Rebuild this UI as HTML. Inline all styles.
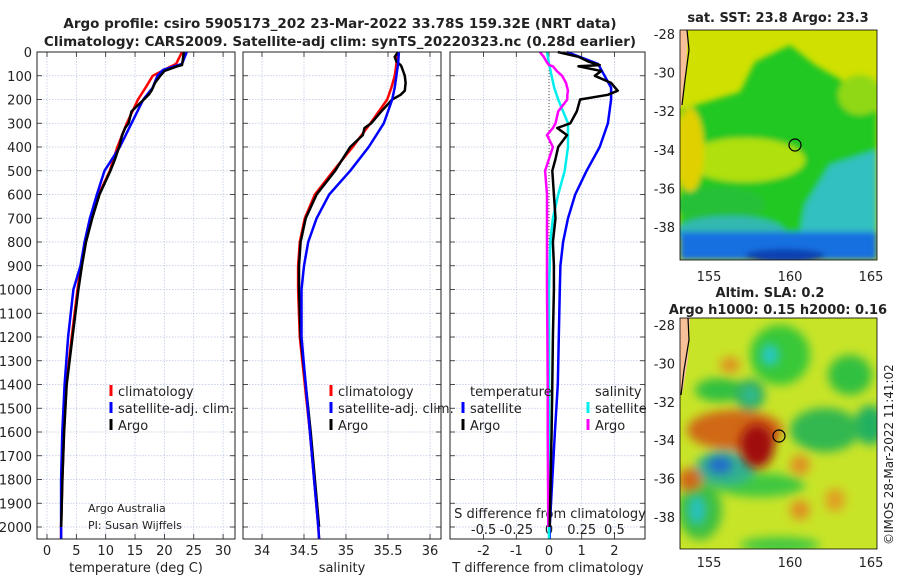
<!DOCTYPE html>
<html><head><meta charset="utf-8"><style>
body{margin:0;background:#fff;}
svg text{font-family:"DejaVu Sans","Liberation Sans",sans-serif;fill:#222;}
</style></head><body>
<svg id="s" width="900" height="580" viewBox="0 0 900 580" xmlns="http://www.w3.org/2000/svg">
<defs>
<filter id="bl" x="-50%" y="-50%" width="200%" height="200%"><feGaussianBlur stdDeviation="5"/></filter>
<filter id="bl3" x="-50%" y="-50%" width="200%" height="200%"><feGaussianBlur stdDeviation="3"/></filter>
<clipPath id="c1"><rect x="680" y="30" width="197" height="230"/></clipPath>
<clipPath id="c2"><rect x="680" y="318" width="197" height="231"/></clipPath>
</defs>
<text x="340" y="28" text-anchor="middle" font-size="13.5" font-weight="bold">Argo profile: csiro 5905173_202 23-Mar-2022 33.78S 159.32E (NRT data)</text>
<text x="340" y="46" text-anchor="middle" font-size="13.5" font-weight="bold">Climatology: CARS2009. Satellite-adj clim: synTS_20220323.nc (0.28d earlier)</text>
<g id="g"></g>
<!-- SST map -->
<g clip-path="url(#c1)">
<rect x="680" y="30" width="197" height="230" fill="#d0e000"/>
<g filter="url(#bl3)">
<path d="M680 110 L740 92 L755 62 L790 45 L815 65 L850 85 L877 85 L877 260 L680 260Z" fill="#22c822"/>
<ellipse cx="860" cy="95" rx="22" ry="20" fill="#90d818"/>
<ellipse cx="745" cy="160" rx="60" ry="22" fill="#b0e010"/>
<ellipse cx="690" cy="150" rx="14" ry="42" fill="#e0d000"/>
<ellipse cx="720" cy="205" rx="45" ry="18" fill="#28c038"/>
<path d="M805 205 L830 165 L877 150 L877 260 L795 260Z" fill="#30c0c0"/>
<ellipse cx="730" cy="232" rx="55" ry="16" fill="#30b8b0"/>
<rect x="680" y="232" width="197" height="28" fill="#1870e0"/>
<ellipse cx="785" cy="256" rx="40" ry="7" fill="#1040b0"/>
</g>
<path d="M680 30 L688 30 L686 70 L683 100 L680 110Z" fill="#f8c098"/>
<path d="M687 30 L689 50 L685 80 L682 105" fill="none" stroke="#000" stroke-width="1.2"/>
<circle cx="795" cy="145" r="6" fill="none" stroke="#000" stroke-width="1.2"/>
</g>
<rect x="680" y="30" width="197" height="230" fill="none" stroke="#000" stroke-width="0.8"/>
<!-- SLA map -->
<g clip-path="url(#c2)">
<rect x="680" y="318" width="197" height="231" fill="#c8e428"/>
<g filter="url(#bl)">
<ellipse cx="780" cy="355" rx="30" ry="30" fill="#38c838"/>
<ellipse cx="850" cy="375" rx="22" ry="20" fill="#30c040"/>
<ellipse cx="870" cy="425" rx="15" ry="20" fill="#20b060"/>
<ellipse cx="825" cy="430" rx="35" ry="22" fill="#30b850"/>
<ellipse cx="720" cy="390" rx="25" ry="12" fill="#30c040"/>
<ellipse cx="750" cy="395" rx="15" ry="16" fill="#30b060"/>
<ellipse cx="760" cy="485" rx="45" ry="12" fill="#40c840"/>
<ellipse cx="700" cy="510" rx="22" ry="30" fill="#40c040"/>
<ellipse cx="725" cy="468" rx="30" ry="17" fill="#30b090"/>
<ellipse cx="735" cy="430" rx="48" ry="20" fill="#d06818"/>
<ellipse cx="690" cy="480" rx="12" ry="12" fill="#d06818"/>
<ellipse cx="800" cy="465" rx="10" ry="10" fill="#e09020"/>
<ellipse cx="800" cy="510" rx="10" ry="10" fill="#e09020"/>
<ellipse cx="835" cy="500" rx="10" ry="12" fill="#e0a020"/>
<ellipse cx="730" cy="365" rx="10" ry="8" fill="#e09020"/>
<ellipse cx="780" cy="545" rx="40" ry="8" fill="#40c840"/>
</g>
<g filter="url(#bl)">
<ellipse cx="757" cy="446" rx="17" ry="22" fill="#a00808"/>
<ellipse cx="720" cy="465" rx="12" ry="8" fill="#2068d0"/>
<ellipse cx="770" cy="355" rx="9" ry="11" fill="#28c8c8"/>
<ellipse cx="697" cy="510" rx="9" ry="15" fill="#28c0c0"/>
<ellipse cx="750" cy="395" rx="6" ry="6" fill="#30c0b0"/>
</g>
<path d="M680 318 L690 318 L688 360 L683 390 L680 395Z" fill="#f8c098"/>
<path d="M688 318 L689 340 L684 370 L681 395" fill="none" stroke="#000" stroke-width="1.2"/>
<circle cx="779" cy="436" r="6" fill="none" stroke="#000" stroke-width="1.2"/>
</g>
<rect x="680" y="318" width="197" height="231" fill="none" stroke="#000" stroke-width="0.8"/>
<text x="778" y="22" text-anchor="middle" font-size="13" font-weight="bold">sat. SST: 23.8 Argo: 23.3</text>
<text x="770" y="297" text-anchor="middle" font-size="13" font-weight="bold">Altim. SLA: 0.2</text>
<text x="778" y="314" text-anchor="middle" font-size="13" font-weight="bold">Argo h1000: 0.15 h2000: 0.16</text>
<text transform="translate(893,545) rotate(-90)" font-size="12">©IMOS 28-Mar-2022 11:41:02</text>
</svg>
<script>
const depthC=[0,50,75,100,150,200,300,400,500,600,700,800,900,1000,1200,1400,1600,1800,2000,2050];
const climT=[23,22,20,18,16.8,15.5,13.6,12,10.7,8.8,7.5,6.5,5.8,5.2,4.2,3.3,2.9,2.6,2.4,2.4];
const satT=[23.8,23,19.8,18.8,18,16.4,14.4,12.4,9.8,8.5,7.3,6.4,5.7,4.5,3.6,3.0,2.6,2.4,2.4,2.4];
const climS=[35.61,35.6,35.59,35.58,35.54,35.49,35.29,35.08,34.85,34.63,34.51,34.45,34.43,34.43,34.45,34.51,34.57,34.62,34.67,34.68];
const satS=[35.63,35.62,35.61,35.6,35.58,35.55,35.45,35.27,35.05,34.8,34.65,34.55,34.5,34.47,34.47,34.52,34.57,34.62,34.67,34.68];
const depthA=[0,20,40,55,60,80,100,130,163,180,200,250,300,320,350,400,450,500,600,700,800,900,1000,1200,1400,1600,1800,2000];
const argoT=[23.3,23.2,23.1,23,22.2,20,19.3,18.4,17.8,17.3,16.5,14.4,13.9,13.3,12.8,12.3,11.6,10.8,8.95,7.7,6.65,5.95,5.35,4.35,3.35,2.92,2.62,2.42];
const argoS=[35.62,35.58,35.6,35.65,35.66,35.68,35.7,35.71,35.7,35.65,35.55,35.42,35.3,35.22,35.2,35.05,34.96,34.87,34.65,34.52,34.46,34.44,34.44,34.46,34.52,34.58,34.63,34.68];
const dTsat=[0.55,1.5,1.6,1.7,1.9,1.9,1.8,1.55,1.15,0.8,0.58,0.43,0.35,0.33,0.3,0.27,0.18,0.1,0.02,0.02];
const dTargo=[0.27,0.9,1.2,1.55,0.9,1.6,1.4,1.9,2.1,1.8,0.95,0.85,0.65,0.25,0.55,0.28,0.2,0.1,0.15,0.2,0.12,0.15,0.15,0.12,0.1,0.08,0.05,0.02];
const dSsat=[-0.015,0.0,0.01,0.02,0.04,0.07,0.145,0.145,0.12,0.07,0.03,0.01,0.005,0,0,0,0,0,0,0];
const dSargo=[-0.07,-0.04,-0.02,0,0.03,0.06,0.1,0.13,0.145,0.14,0.14,0.07,0.05,0.03,-0.015,0.03,0.0,-0.03,-0.015,-0.015,-0.015,-0.015,-0.015,-0.012,-0.01,-0.01,-0.008,-0.005];
const depthTicks=[0,100,200,300,400,500,600,700,800,900,1000,1100,1200,1300,1400,1500,1600,1700,1800,1900,2000];
const tTicks=[0,5,10,15,20,25,30];
const sTicks=[34,34.5,35,35.5,36];
const sTickLabels=["34","34.5","35","35.5","36"];
const dTTicks=[-2,-1,0,1,2];
const dSTicks=[-0.5,-0.25,0,0.25,0.5];
const dSTickLabels=["-0.5","-0.25","0","0.25","0.5"];
const lat=[-28,-30,-32,-34,-36,-38];
const lon=[155,160,165];

const NS='http://www.w3.org/2000/svg';
const g=document.getElementById('g');
function el(t,a,p){const e=document.createElementNS(NS,t);for(const k in a)e.setAttribute(k,a[k]);(p||g).appendChild(e);return e;}
const yD=d=>52+d*0.2375;
const xT=v=>47+v*5.87;
const xS=v=>262+(v-34)*84;
const xDT=v=>549+v*32.7;
const xDS=v=>549+v*130.8;
const P=[{x0:37,x1:235},{x0:243,x1:441},{x0:450,x1:645}];
const yTop=52,yBot=539;
function line(xs,ds,fx,col,w,name){
  const pts=xs.map((v,i)=>fx(v).toFixed(1)+','+yD(ds[i]).toFixed(1)).join(' ');
  const e=el('polyline',{points:pts,fill:'none',stroke:col,'stroke-width':w,'stroke-linejoin':'round'});
  
  
}
function txt(x,y,s,size,anchor,name){
  const e=el('text',{x:x,y:y,'font-size':size,'text-anchor':anchor||'start'});e.textContent=s;
  
  
  return e;
}
P.forEach((p,pi)=>{
  depthTicks.forEach(d=>{
    const e=el('line',{x1:p.x0,x2:p.x1,y1:yD(d),y2:yD(d),stroke:'#b8c4e0','stroke-width':0.7,'stroke-dasharray':'1.5,1.5'});
    
    
    el('line',{x1:p.x0,x2:p.x0+5,y1:yD(d),y2:yD(d),stroke:'#222','stroke-width':0.8});
    el('line',{x1:p.x1-5,x2:p.x1,y1:yD(d),y2:yD(d),stroke:'#222','stroke-width':0.8});
  });
  const xt = pi==0?tTicks.map(xT):pi==1?sTicks.map(xS):dTTicks.map(xDT);
  xt.forEach(x=>{
    const e=el('line',{x1:x,x2:x,y1:yTop,y2:yBot,stroke:'#b8c4e0','stroke-width':0.7,'stroke-dasharray':'1.5,1.5'});
    
    
    el('line',{x1:x,x2:x,y1:yBot-5,y2:yBot,stroke:'#222','stroke-width':0.8});
    el('line',{x1:x,x2:x,y1:yTop,y2:yTop+5,stroke:'#222','stroke-width':0.8});
  });
});
depthTicks.forEach(d=>txt(32,yD(d)+5,String(d),13,'end','depth-tick-label'));
tTicks.forEach(v=>txt(xT(v),555,String(v),13,'middle','temperature-tick-label'));
sTicks.forEach((v,i)=>txt(xS(v),555,sTickLabels[i],13,'middle','salinity-tick-label'));
dTTicks.forEach(v=>txt(xDT(v),555,String(v),13,'middle','t-diff-tick-label'));
dSTicks.forEach((v,i)=>txt(xDS(v),534,dSTickLabels[i],13,'middle','s-diff-tick-label'));
txt(136,572,'temperature (deg C)',13,'middle','temperature-axis-title');
txt(342,572,'salinity',13,'middle','salinity-axis-title');
txt(548,572,'T difference from climatology',13,'middle','t-diff-axis-title');
txt(550,518,'S difference from climatology',13,'middle','s-diff-axis-title');
{const e=el('line',{x1:xDT(0),x2:xDT(0),y1:yTop,y2:yBot,stroke:'#444','stroke-width':1,'stroke-dasharray':'1,2'});
}
line(climT,depthC,xT,'#f00',2.5,'temperature-climatology-line');
line(satT,depthC,xT,'#00f',2.5,'temperature-satellite-line');
line(argoT,depthA,xT,'#000',2.5,'temperature-argo-line');
line(climS,depthC,xS,'#f00',2.5,'salinity-climatology-line');
line(argoS,depthA,xS,'#000',2.5,'salinity-argo-line');
line(satS,depthC,xS,'#00f',2.5,'salinity-satellite-line');
line(dTsat,depthC,xDT,'#00f',2.5,'t-diff-satellite-line');
line(dSsat,depthC,xDS,'#0ee',2.5,'s-diff-satellite-line');
line(dSargo,depthA,xDS,'#f0f',2.5,'s-diff-argo-line');
line(dTargo,depthA,xDT,'#000',2.5,'t-diff-argo-line');
P.forEach(p=>{const e=el('rect',{x:p.x0,y:yTop,width:p.x1-p.x0,height:yBot-yTop,fill:'none',stroke:'#222','stroke-width':1});
});
function leg(x,y,col,label){
  const m=el('rect',{x:x-1.5,y:y-11,width:3,height:11,fill:col});
  
  txt(x+7,y,label,13,'start','legend-entry');
}
leg(111,396,'#f00','climatology');leg(111,413,'#00f','satellite-adj. clim.');leg(111,430,'#000','Argo');
leg(331,396,'#f00','climatology');leg(331,413,'#00f','satellite-adj. clim.');leg(331,430,'#000','Argo');
txt(470,396,'temperature',13,'start','legend-heading');
txt(595,396,'salinity',13,'start','legend-heading');
leg(463,413,'#00f','satellite');leg(463,430,'#000','Argo');
leg(588,413,'#0ee','satellite');leg(588,430,'#f0f','Argo');
txt(88,512,'Argo Australia',11,'start','credit-text');
txt(88,529,'PI: Susan Wijffels',11,'start','credit-text');
const mlon=v=>709+(v-155)*16.2;
lat.forEach((v,i)=>{
  const y1=34+i*38.6, y2=325+i*38.4;
  txt(675,y1+5,String(v),13,'end','sst-lat-label');
  txt(675,y2+5,String(v),13,'end','sla-lat-label');
  [y1,y2].forEach(y=>{el('line',{x1:680,x2:684,y1:y,y2:y,stroke:'#000'});el('line',{x1:873,x2:877,y1:y,y2:y,stroke:'#000'});});
});
lon.forEach(v=>{
  txt(mlon(v),281,String(v),13,'middle','sst-lon-label');
  txt(mlon(v),567,String(v),13,'middle','sla-lon-label');
  el('line',{x1:mlon(v),x2:mlon(v),y1:256,y2:260,stroke:'#000'});
  el('line',{x1:mlon(v),x2:mlon(v),y1:545,y2:549,stroke:'#000'});
});
</script>
</body></html>
